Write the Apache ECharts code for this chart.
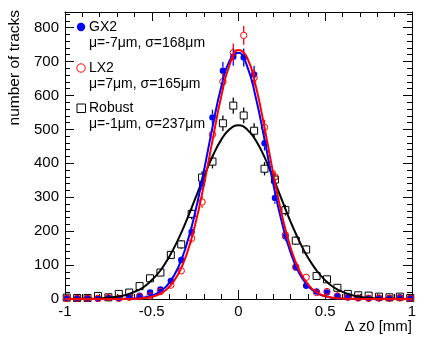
<!DOCTYPE html>
<html>
<head>
<meta charset="utf-8">
<script src="https://cdn.jsdelivr.net/npm/echarts@6.0.0/dist/echarts.min.js"></script>
<style>
  html, body { margin: 0; padding: 0; background: #fff; }
  #chart { width: 431px; height: 343px; }
</style>
</head>
<body>
<div id="chart"></div>
<script>
// bin centres (width 0.06)
const binX = [-0.99, -0.93, -0.87, -0.81, -0.75, -0.69, -0.63, -0.57, -0.51, -0.45, -0.39, -0.33, -0.27, -0.21, -0.15, -0.09, -0.03,
  0.03, 0.09, 0.15, 0.21, 0.27, 0.33, 0.39, 0.45, 0.51, 0.57, 0.63, 0.69, 0.75, 0.81, 0.87, 0.93, 0.99];

// entries per bin
const gx2 = [3, 2, 2, 1, 3, 2, 6, 10, 19, 28, 53, 115, 198, 340, 535, 673, 714,
  712, 662, 459, 298, 185, 93, 39, 22, 19, 9, 5, 3, 2, 2, 3, 5, 3];
const lx2 = [2, 2, 2, 2, 4, 2, 5, 7, 9, 22, 41, 83, 179, 286, 485, 641, 726,
  777, 652, 506, 360, 189, 95, 64, 19, 22, 9, 5, 3, 2, 3, 2, 3, 2];
const robust = [4, 3, 3, 9, 5, 15, 19, 38, 61, 78, 130, 161, 251, 358, 405, 518, 570,
  541, 496, 384, 352, 262, 172, 146, 68, 58, 33, 15, 11, 10, 7, 5, 7, 3];

// gaussian fit curves
const fitX = [-1, -0.9, -0.8, -0.7, -0.65, -0.6, -0.55, -0.5, -0.45, -0.4, -0.35, -0.3, -0.25, -0.2, -0.15, -0.1, -0.05, 0,
  0.05, 0.1, 0.15, 0.2, 0.25, 0.3, 0.35, 0.4, 0.45, 0.5, 0.55, 0.6, 0.65, 0.7, 0.8, 0.9, 1];
const fitGx2 = [0, 0, 0, 0.15, 0.5, 1.4, 3.9, 9.8, 22.5, 47, 90, 159, 255, 376, 506, 624, 704, 726,
  686, 593, 470, 340, 226, 137, 76, 39, 18, 7.7, 3, 1.1, 0.35, 0.1, 0, 0, 0];
const fitLx2 = [0, 0, 0, 0.1, 0.26, 0.8, 2.5, 6.5, 15.9, 35, 71, 130, 219, 335, 467, 596, 692, 734,
  711, 627, 505, 371, 248, 152, 85, 43, 20, 8.5, 3.3, 1.2, 0.37, 0.1, 0, 0, 0];
const fitRobust = [0.1, 0.4, 1.7, 6.6, 11.8, 21, 34, 56, 84, 124, 173, 231, 295, 360, 420, 469, 501, 512,
  500, 467, 418, 357, 292, 228, 171, 122, 84, 55, 34, 21, 12, 6.5, 1.7, 0.4, 0.1];

const legendNames = ['GX2', 'LX2', 'Robust'];
const legendStats = ['μ=-7μm, σ=168μm', 'μ=7μm, σ=165μm', 'μ=-1μm, σ=237μm'];

const FONT = "'Liberation Sans', Arial, Helvetica, sans-serif";
const chart = echarts.init(document.getElementById('chart'), null, { renderer: 'canvas' });

// points with vertical error bars (sqrt(N)), gap round the marker
function pointSeries(name, ys, color, shape) {
  return {
    type: 'custom',
    name: name,
    xAxisIndex: 0,
    yAxisIndex: 0,
    z: 3,
    data: binX.map((x, i) => [x, ys[i]]),
    encode: { x: 0, y: 1 },
    renderItem: function (params, api) {
      const x = api.value(0);
      const y = api.value(1);
      const c = api.coord([x, y]);
      const err = Math.sqrt(y);
      const top = api.coord([x, y + err])[1];
      const bot = api.coord([x, Math.max(y - err, 0)])[1];
      const r = 3.5;
      const kids = [];
      if (top < c[1] - r) {
        kids.push({ type: 'line', shape: { x1: c[0], y1: top, x2: c[0], y2: c[1] - r }, style: { stroke: color, lineWidth: 1.3 } });
      }
      if (bot > c[1] + r) {
        kids.push({ type: 'line', shape: { x1: c[0], y1: c[1] + r, x2: c[0], y2: bot }, style: { stroke: color, lineWidth: 1.3 } });
      }
      if (shape === 'dot') {
        kids.push({ type: 'circle', shape: { cx: c[0], cy: c[1], r: 3.2 }, style: { fill: color } });
      } else if (shape === 'ring') {
        kids.push({ type: 'circle', shape: { cx: c[0], cy: c[1], r: 3.2 }, style: { fill: 'transparent', stroke: color, lineWidth: 1 } });
      } else {
        kids.push({ type: 'rect', shape: { x: c[0] - 3.5, y: c[1] - 3.5, width: 7, height: 7 }, style: { fill: 'transparent', stroke: color, lineWidth: 1 } });
      }
      return { type: 'group', children: kids };
    }
  };
}

function fitSeries(name, ys, color) {
  return {
    type: 'line',
    name: name,
    xAxisIndex: 0,
    yAxisIndex: 0,
    z: 4,
    smooth: true,
    symbol: 'none',
    data: fitX.map((x, i) => [x, ys[i]]),
    lineStyle: { color: color, width: 2 }
  };
}

const tickCfg = (len) => ({ show: true, inside: true, length: len, lineStyle: { color: '#000', width: 1 } });
const minorCfg = { show: true, splitNumber: 5, length: 5, lineStyle: { color: '#000', width: 1 } };
const lineCfg = { show: true, onZero: false, lineStyle: { color: '#000', width: 1 } };

const option = {
  animation: false,
  backgroundColor: '#fff',
  grid: { left: 65, right: 19, top: 12, bottom: 44 },
  xAxis: [
    {
      type: 'value', min: -1, max: 1, interval: 0.5, position: 'bottom',
      axisLine: lineCfg, axisTick: tickCfg(9), minorTick: minorCfg,
      splitLine: { show: false },
      axisLabel: { color: '#000', fontSize: 15, fontFamily: FONT, margin: 5 }
    },
    {
      type: 'value', min: -1, max: 1, interval: 0.5, position: 'top',
      axisLine: lineCfg, axisTick: tickCfg(9), minorTick: minorCfg,
      splitLine: { show: false }, axisLabel: { show: false }
    }
  ],
  yAxis: [
    {
      type: 'value', min: 0, max: 846, interval: 100, position: 'left',
      axisLine: lineCfg, axisTick: tickCfg(9), minorTick: minorCfg,
      splitLine: { show: false },
      axisLabel: { color: '#000', fontSize: 15, fontFamily: FONT, margin: 6, showMaxLabel: false }
    },
    {
      type: 'value', min: 0, max: 846, interval: 100, position: 'right',
      axisLine: lineCfg, axisTick: tickCfg(9), minorTick: minorCfg,
      splitLine: { show: false }, axisLabel: { show: false }
    }
  ],
  series: [
    pointSeries('Robust', robust, '#000000', 'square'),
    pointSeries('GX2', gx2, '#0000ff', 'dot'),
    pointSeries('LX2', lx2, '#ff0000', 'ring'),
    fitSeries('Robust fit', fitRobust, '#000000'),
    fitSeries('GX2 fit', fitGx2, '#0000ff'),
    fitSeries('LX2 fit', fitLx2, '#ff0000')
  ],
  graphic: [
    // axis titles
    { type: 'text', x: 15, y: 10, rotation: Math.PI / 2,
      style: { text: 'number of tracks', fill: '#000', font: '15.5px ' + FONT, align: 'right', verticalAlign: 'middle' } },
    { type: 'text', x: 412, y: 327,
      style: { text: 'Δ z0 [mm]', fill: '#000', font: '15px ' + FONT, align: 'right', verticalAlign: 'middle' } },
    // legend
    { type: 'circle', shape: { cx: 81, cy: 27, r: 4.2 }, style: { fill: '#0000ff' } },
    { type: 'text', x: 89, y: 27, style: { text: legendNames[0], fill: '#000', font: '14px ' + FONT, verticalAlign: 'middle' } },
    { type: 'text', x: 89, y: 43.5, style: { text: legendStats[0], fill: '#000', font: '14px ' + FONT, verticalAlign: 'middle' } },
    { type: 'circle', shape: { cx: 81, cy: 68, r: 4.2 }, style: { fill: 'transparent', stroke: '#ff0000', lineWidth: 1 } },
    { type: 'text', x: 89, y: 68, style: { text: legendNames[1], fill: '#000', font: '14px ' + FONT, verticalAlign: 'middle' } },
    { type: 'text', x: 89, y: 84, style: { text: legendStats[1], fill: '#000', font: '14px ' + FONT, verticalAlign: 'middle' } },
    { type: 'rect', shape: { x: 77, y: 104, width: 8.5, height: 8.5 }, style: { fill: 'transparent', stroke: '#000', lineWidth: 1 } },
    { type: 'text', x: 89, y: 108, style: { text: legendNames[2], fill: '#000', font: '14px ' + FONT, verticalAlign: 'middle' } },
    { type: 'text', x: 89, y: 124.5, style: { text: legendStats[2], fill: '#000', font: '14px ' + FONT, verticalAlign: 'middle' } }
  ]
};

chart.setOption(option);
</script>
</body>
</html>
